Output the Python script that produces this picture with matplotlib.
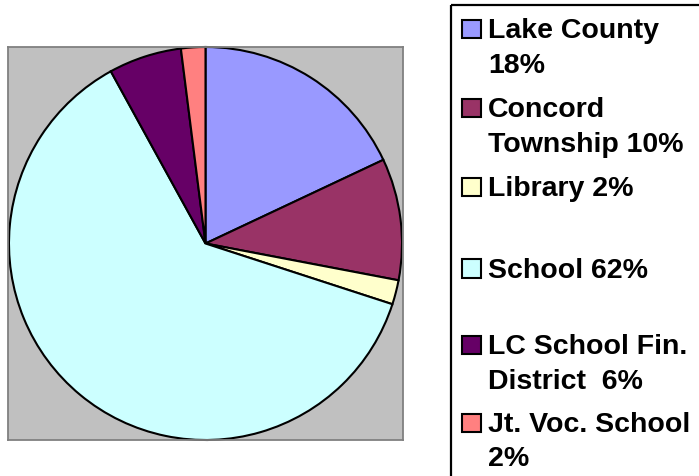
import matplotlib
matplotlib.use("Agg")
import matplotlib.pyplot as plt
from matplotlib.patches import Rectangle

categories = ["Lake County\n18%", "Concord\nTownship 10%", "Library 2%", "School 62%",
              "LC School Fin.\nDistrict  6%", "Jt. Voc. School\n2%"]
values = [18, 10, 2, 62, 6, 2]
colors = ["#9999FF", "#993366", "#FFFFCC", "#CCFFFF", "#660066", "#FF8080"]

W, H = 699, 476
fig = plt.figure(figsize=(W / 100, H / 100), dpi=100)
fig.patch.set_facecolor("white")

# plot area (gray box) in pixel coords
x0, x1, y0, y1 = 8, 403, 47, 440
ax = fig.add_axes([x0 / W, 1 - y1 / H, (x1 - x0) / W, (y1 - y0) / H])
ax.pie(values, colors=colors, startangle=90, counterclock=False, radius=1.0,
       frame=True, wedgeprops=dict(edgecolor="black", linewidth=1.5))
ax.set_facecolor("#C0C0C0")
for s in ax.spines.values():
    s.set_visible(True)
    s.set_color("#808080")
    s.set_linewidth(1.3)
ax.set_xlim(-1.005, 1.005)
ax.set_ylim(-1.0, 1.0)
ax.set_aspect("auto")
ax.set_xticks([])
ax.set_yticks([])

# legend overlay in pixel coordinates
lax = fig.add_axes([0, 0, 1, 1])
lax.set_xlim(0, W)
lax.set_ylim(H, 0)
lax.axis("off")
lax.patch.set_alpha(0)
lax.add_patch(Rectangle((451, 5), 400, 600, facecolor="none", edgecolor="black", linewidth=1.6))

baselines = [(38.3, 73.3), (117.3, 151.7), (196,), (277.5,), (354.3, 388.7), (432, 466)]
for lab, col, bl in zip(categories, colors, baselines):
    lines = lab.split("\n")
    lax.add_patch(Rectangle((461.5, bl[0] - 18.5), 19, 18.5, facecolor=col,
                            edgecolor="black", linewidth=1.5))
    for ln, b in zip(lines, bl):
        lax.text(488, b, ln, fontsize=20.5, fontweight="bold", family="Liberation Sans",
                 va="baseline", ha="left", color="black")

fig.savefig("out.png", dpi=100)
